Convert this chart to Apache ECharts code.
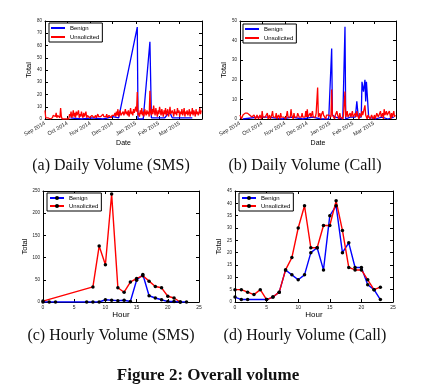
<!DOCTYPE html>
<html><head><meta charset="utf-8">
<script src="https://cdn.jsdelivr.net/npm/echarts@6/dist/echarts.min.js"></script>
<style>html,body{margin:0;padding:0;background:#fff}#c{width:426px;height:390px}</style>
</head><body><div id="c"></div>
<script>
// ---------- DATA ----------
const dailyStart = '2014-09-01';
const monthTickDates = ['2014-09-01','2014-10-01','2014-11-01','2014-12-01','2015-01-01','2015-02-01','2015-03-01'];
const monthNames = ['Jan','Feb','Mar','Apr','May','Jun','Jul','Aug','Sep','Oct','Nov','Dec'];

// Daily unsolicited SMS, one value per day from 2014-09-01 to 2015-03-30
const smsUnsolicitedDaily = [
 7,1,0,0,1,0,1,0,1,0, 1,3,2,4,2,5,1,3,2,4, 1,9,2,0,0,0,0,0,0,0,
 0,0,0,4,2,6,1,3,7,2, 5,1,6,3,2,7,1,4,2,6, 3,1,5,2,4,6,1,3,2,3, 1,
 2,1,3,2,4,1,2,3,1,2, 4,2,1,3,2,1,3,4,2,1, 3,2,4,1,2,3,2,4,1,3,
 2,4,3,5,2,6,3,8,2,5, 7,3,4,2,6,3,5,8,4,6, 3,7,2,5,9,4,6,3,8,5, 4,
 10,6,22,3,5,2,7,4,9,3, 6,2,8,5,3,7,4,6,2,23, 5,3,8,4,11,6,3,9,5,2, 7,
 4,10,6,3,8,5,2,7,4,9, 3,6,8,2,5,10,4,3,7,5, 2,8,4,6,3,9,5,7,
 2,6,4,8,3,5,9,2,6,4, 7,3,5,8,2,6,4,9,3,7, 5,2,8,4,6,3,5,9,4,7
];
// Daily unsolicited calls
const callUnsolicitedDaily = [
 2,1,0,1,2,1,2,3,2,3, 3,2,3,2,3,2,1,2,1,2, 1,0,1,2,1,0,1,2,1,0,
 4,1,0,2,1,0,1,3,0,1, 2,0,1,2,4,1,0,2,1,3, 0,1,2,1,0,3,1,2,0,1, 2,
 1,0,2,4,1,2,0,1,5,2, 1,0,3,1,2,0,1,3,2,1, 0,2,1,3,1,0,2,1,4,1,
 5,1,2,0,3,1,2,4,1,0, 2,1,3,2,16,1,2,3,0,2, 1,4,2,1,3,0,2,1,3,2, 1,
 2,1,15,2,1,3,0,2,1,4, 2,1,0,3,1,2,1,0,2,3, 14,1,2,4,1,0,2,3,1,2, 4,
 1,2,0,3,1,4,2,1,0,3, 2,1,4,2,1,3,7,2,1,0, 2,1,3,0,1,2,1,0,
 1,2,0,1,3,2,1,0,2,4, 1,2,3,0,5,2,1,4,2,3, 1,4,2,0,3,1,2,4,1,2
];
// Benign daily (sparse dates)
const smsBenignDates = ['2014-10-05','2014-10-20','2014-11-03','2014-11-18','2014-12-01','2014-12-09','2015-01-03','2015-01-04','2015-01-11','2015-01-20','2015-01-22','2015-02-09','2015-02-13','2015-02-16','2015-02-19','2015-03-01','2015-03-18'];
const smsBenignValues = [1,0,1,0,2,1,75,0,0,63,1,1,4,5,1,1,1];
const callBenignDates = ['2014-09-05','2014-09-25','2014-10-10','2014-10-28','2014-11-10','2014-11-25','2014-12-08','2014-12-20','2014-12-30','2015-01-03','2015-01-04','2015-01-08','2015-01-18','2015-01-21','2015-01-22','2015-01-28','2015-02-04','2015-02-06','2015-02-08','2015-02-12','2015-02-13','2015-02-15','2015-02-16','2015-02-17','2015-02-18','2015-02-19','2015-02-20','2015-02-22','2015-03-03','2015-03-12','2015-03-20','2015-03-28'];
const callBenignValues = [0,1,1,0,1,0,1,0,0,36,2,1,0,47,0,1,1,9,1,1,19,14,15,20,9,19,19,1,0,1,0,1];

// Hourly
const smsHourBenignHours = [0,1,2,7,8,9,10,11,12,13,14,15,16,17,18,19,20,21,22,23];
const smsHourBenignValues = [0,0,0,0,0,0,5,4,3,4,1,49,62,14,9,5,1,1,0,0];
const smsHourUnsolHours = [0,8,9,10,11,12,13,14,15,16,17,18,19,20,21,22];
const smsHourUnsolValues = [2,34,126,84,243,32,22,45,53,59,47,35,32,13,9,0];
const callHourBenignHours = [0,1,2,5,6,7,8,9,10,11,12,13,14,15,16,17,18,19,20,21,22,23];
const callHourBenignValues = [2,1,1,1,2,4,13,11,9,11,20,22,13,35,39,20,24,14,14,7,5,1];
const callHourUnsolHours = [0,1,2,3,4,5,6,7,8,9,10,11,12,13,14,15,16,17,18,19,20,21,22,23];
const callHourUnsolValues = [5,5,4,3,5,1,2,4,13,18,30,39,22,22,31,31,41,29,14,13,13,9,5,6];

const captions = ['(a) Daily Volume (SMS)','(b) Daily Volume (Call)','(c) Hourly Volume (SMS)','(d) Hourly Volume (Call)'];
const figureTitle = 'Figure 2: Overall volume';

// ---------- BUILD ----------
const SANS = 'Liberation Sans, Arial, sans-serif';
const SERIF = 'Liberation Serif, Times New Roman, serif';
const toTs = s => { const [y,m,d] = s.split('-').map(Number); return new Date(y, m-1, d).getTime(); };
const t0 = toTs(dailyStart);
const dayTs = i => { const d = new Date(t0); d.setDate(d.getDate() + i); return d.getTime(); };
const tMin = t0, tMax = toTs('2015-03-31');
const monthTicks = monthTickDates.map(toTs);
const fmtMonth = v => { const d = new Date(v); return monthNames[d.getMonth()] + ' ' + d.getFullYear(); };

const BLUE = '#0000ff', RED = '#ff0000';
const grids = [
  {left:45, top:21, width:157, height:98},
  {left:240, top:21, width:156, height:98},
  {left:43, top:191, width:156, height:111},
  {left:235, top:191, width:158, height:111}
];

function timeAxis(g, pos) {
  const bottom = pos === 'bottom';
  return {type:'value', gridIndex:g, position:pos, min:tMin, max:tMax,
    axisLine:{show:true, onZero:false, lineStyle:{color:'#000', width:1}},
    axisTick:{show:true, inside:true, length:3, customValues:monthTicks, lineStyle:{color:'#000'}},
    axisLabel:{show:bottom, customValues:monthTicks, rotate:30, fontSize:5.5, margin:4, color:'#222', fontFamily:SANS, formatter:fmtMonth},
    splitLine:{show:false},
    name: bottom ? 'Date' : '', nameLocation:'middle', nameGap:21,
    nameTextStyle:{fontSize:7, color:'#000', fontFamily:SANS}};
}
function hourAxis(g, pos) {
  const bottom = pos === 'bottom';
  return {type:'value', gridIndex:g, position:pos, min:0, max:25, interval:5,
    axisLine:{show:true, onZero:false, lineStyle:{color:'#000', width:1}},
    axisTick:{show:true, inside:true, length:3, lineStyle:{color:'#000'}},
    axisLabel:{show:bottom, fontSize:5, margin:3, color:'#222', fontFamily:SANS},
    splitLine:{show:false},
    name: bottom ? 'Hour' : '', nameLocation:'middle', nameGap:8,
    nameTextStyle:{fontSize:8, color:'#000', fontFamily:SANS}};
}
function valAxis(g, pos, max, interval, gap) {
  const left = pos === 'left';
  return {type:'value', gridIndex:g, position:pos, min:0, max:max, interval:interval,
    axisLine:{show:true, onZero:false, lineStyle:{color:'#000', width:1}},
    axisTick:{show:true, inside:true, length:3, lineStyle:{color:'#000'}},
    axisLabel:{show:left, fontSize:4.5, margin:3, color:'#222', fontFamily:SANS},
    splitLine:{show:false},
    name: left ? 'Total' : '', nameLocation:'middle', nameGap:gap, nameRotate:90,
    nameTextStyle:{fontSize:7.5, color:'#000', fontFamily:SANS}};
}

const xAxis = [timeAxis(0,'bottom'), timeAxis(1,'bottom'), hourAxis(2,'bottom'), hourAxis(3,'bottom'),
               timeAxis(0,'top'), timeAxis(1,'top'), hourAxis(2,'top'), hourAxis(3,'top')];
const yAxis = [valAxis(0,'left',80,10,9), valAxis(1,'left',50,10,10), valAxis(2,'left',250,50,11), valAxis(3,'left',45,5,10),
               valAxis(0,'right',80,10,0), valAxis(1,'right',50,10,0), valAxis(2,'right',250,50,0), valAxis(3,'right',45,5,0)];

function dailyLine(name, idx, data, color) {
  return {type:'line', name:name, xAxisIndex:idx, yAxisIndex:idx, data:data, symbol:'none',
    lineStyle:{color:color, width:1.3}, itemStyle:{color:color}, animation:false, silent:true};
}
function hourLine(name, idx, hours, vals, color) {
  return {type:'line', name:name, xAxisIndex:idx, yAxisIndex:idx, data:hours.map((h,i)=>[h, vals[i]]),
    symbol:'circle', symbolSize:3.5, showSymbol:true,
    lineStyle:{color:color, width:1.4}, itemStyle:{color:'#000'}, animation:false, silent:true};
}

const series = [
  dailyLine('Benign|a', 0, smsBenignDates.map((d,i)=>[toTs(d), smsBenignValues[i]]), BLUE),
  dailyLine('Unsolicited|a', 0, smsUnsolicitedDaily.map((v,i)=>[dayTs(i), v]), RED),
  dailyLine('Benign|b', 1, callBenignDates.map((d,i)=>[toTs(d), callBenignValues[i]]), BLUE),
  dailyLine('Unsolicited|b', 1, callUnsolicitedDaily.map((v,i)=>[dayTs(i), v]), RED),
  hourLine('Benign|c', 2, smsHourBenignHours, smsHourBenignValues, BLUE),
  hourLine('Unsolicited|c', 2, smsHourUnsolHours, smsHourUnsolValues, RED),
  hourLine('Benign|d', 3, callHourBenignHours, callHourBenignValues, BLUE),
  hourLine('Unsolicited|d', 3, callHourUnsolHours, callHourUnsolValues, RED)
];

const legendPos = [[49,23],[243,24],[47,193],[239,193]];
const legend = ['a','b','c','d'].map((k,i)=>{
  const daily = i < 2;
  const items = ['Benign|'+k, 'Unsolicited|'+k].map(n => daily ? {name:n, icon:'rect'} : n);
  return {
    data:items, orient:'vertical', left:legendPos[i][0], top:legendPos[i][1],
    padding:[2,3,2,2], itemGap: daily ? 3 : 2, itemWidth:14, itemHeight: daily ? 2 : 5,
    borderColor:'#000', borderWidth:1, backgroundColor:'#fff', selectedMode:false,
    formatter: n => n.split('|')[0],
    textStyle:{fontSize:6, color:'#000', fontFamily:SANS}
  };
});

const capPos = [[111,166],[305,166],[111,336],[305,336]];
const graphic = captions.map((t,i)=>({type:'text', x:capPos[i][0], y:capPos[i][1], silent:true,
  style:{text:t, font:'16px ' + SERIF, fill:'#111', align:'center', verticalAlign:'middle'}}));
graphic.push({type:'text', x:208, y:376, silent:true,
  style:{text:figureTitle, font:'bold 17px ' + SERIF, fill:'#111', align:'center', verticalAlign:'middle'}});

const chart = echarts.init(document.getElementById('c'), null, {renderer:'canvas'});
chart.setOption({
  animation:false, backgroundColor:'#fff',
  grid: grids.map(g=>Object.assign({containLabel:false}, g)),
  xAxis, yAxis, series, legend, graphic
});
</script></body></html>
